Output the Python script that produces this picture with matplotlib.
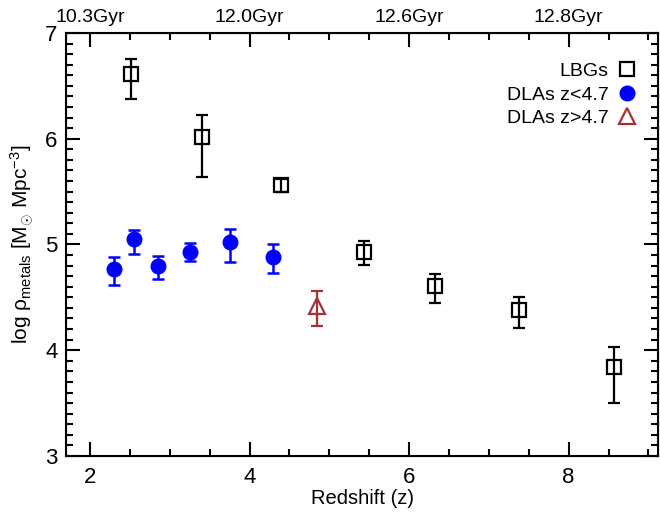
import matplotlib
matplotlib.use("Agg")
import matplotlib.pyplot as plt
from matplotlib.ticker import MultipleLocator
import numpy as np

plt.rcParams['font.family'] = ['Liberation Sans', 'DejaVu Sans']
plt.rcParams['mathtext.fontset'] = 'custom'
plt.rcParams['mathtext.rm'] = 'Liberation Sans'
plt.rcParams['mathtext.it'] = 'Liberation Sans:italic'

# LBGs
lbg_z = [2.51, 3.40, 4.40, 5.44, 6.33, 7.38, 8.57]
lbg_v = [6.61, 6.02, 5.56, 4.93, 4.61, 4.38, 3.84]
lbg_lo = [6.38, 5.64, 5.50, 4.81, 4.45, 4.21, 3.50]
lbg_hi = [6.75, 6.22, 5.62, 5.03, 4.72, 4.50, 4.03]

# DLAs z<4.7
dla_z = [2.30, 2.55, 2.85, 3.26, 3.75, 4.29]
dla_v = [4.77, 5.05, 4.80, 4.93, 5.02, 4.88]
dla_lo = [4.62, 4.91, 4.67, 4.84, 4.83, 4.73]
dla_hi = [4.88, 5.14, 4.89, 5.01, 5.15, 5.00]

# DLAs z>4.7
hdla_z = [4.84]
hdla_v = [4.42]
hdla_lo = [4.23]
hdla_hi = [4.56]

top_ticks = [2, 4, 6, 8]
top_labels = ['10.3Gyr', '12.0Gyr', '12.6Gyr', '12.8Gyr']

fig = plt.figure(figsize=(6.6, 5.15), dpi=100)
ax = fig.add_axes([0.1, 0.1146, 0.897, 0.8214])

def yerr(v, lo, hi):
    v = np.array(v); return [v - np.array(lo), np.array(hi) - v]

red = '#A83232'
ax.errorbar(dla_z, dla_v, yerr=yerr(dla_v, dla_lo, dla_hi), fmt='o', color='#0000FF',
            ms=10.5, mec='#0000FF', mfc='#0000FF', elinewidth=1.8, capsize=4, capthick=1.8,
            ls='none', label='DLAs z<4.7', zorder=3)
ax.errorbar(lbg_z, lbg_v, yerr=yerr(lbg_v, lbg_lo, lbg_hi), fmt='s', color='black',
            ms=10.5, mfc='none', mec='black', mew=1.6, elinewidth=1.6, capsize=4, capthick=1.6,
            ls='none', label='LBGs', zorder=3)
ax.errorbar(hdla_z, hdla_v, yerr=yerr(hdla_v, hdla_lo, hdla_hi), fmt='^', color=red,
            ms=11, mfc='none', mec=red, mew=1.6, elinewidth=1.6, capsize=4, capthick=1.6,
            ls='none', label='DLAs z>4.7', zorder=3)

ax.set_xlim(1.7, 9.12)
ax.set_ylim(3, 7)
ax.xaxis.set_major_locator(MultipleLocator(2))
ax.xaxis.set_minor_locator(MultipleLocator(0.5))
ax.yaxis.set_major_locator(MultipleLocator(1))
ax.yaxis.set_minor_locator(MultipleLocator(0.1))
ax.tick_params(which='both', direction='in', top=False, right=True, labelsize=16, width=1.5)
ax.tick_params(axis='x', pad=8)
ax.tick_params(axis='y', pad=6)
ax.tick_params(which='major', length=10)
ax.tick_params(which='minor', length=5)
for s in ax.spines.values():
    s.set_linewidth(1.5)

ax.set_xlabel('Redshift (z)', fontsize=14.5, labelpad=1)
ax.set_ylabel('log ρ$_{\\rm metals}$ [M$_{\\odot}$ Mpc$^{-3}$]', fontsize=15, labelpad=7)

ax2 = ax.twiny()
ax2.set_xlim(ax.get_xlim())
ax2.set_xticks(top_ticks)
ax2.set_xticklabels(top_labels)
ax2.xaxis.set_minor_locator(MultipleLocator(0.5))
ax2.tick_params(which='both', direction='in', labelsize=14, width=1.5, pad=5)
ax2.tick_params(which='major', length=10)
ax2.tick_params(which='minor', length=5)

h, l = ax.get_legend_handles_labels()
order = [1, 0, 2]
leg = ax.legend([h[i][0] for i in order], [l[i] for i in order], loc='upper right',
                frameon=False, markerfirst=False, fontsize=14, handletextpad=0.35,
                borderaxespad=0.3, labelspacing=0.3, handlelength=1.2,
                bbox_to_anchor=(0.99, 0.962))

fig.savefig('out.png', dpi=100)
